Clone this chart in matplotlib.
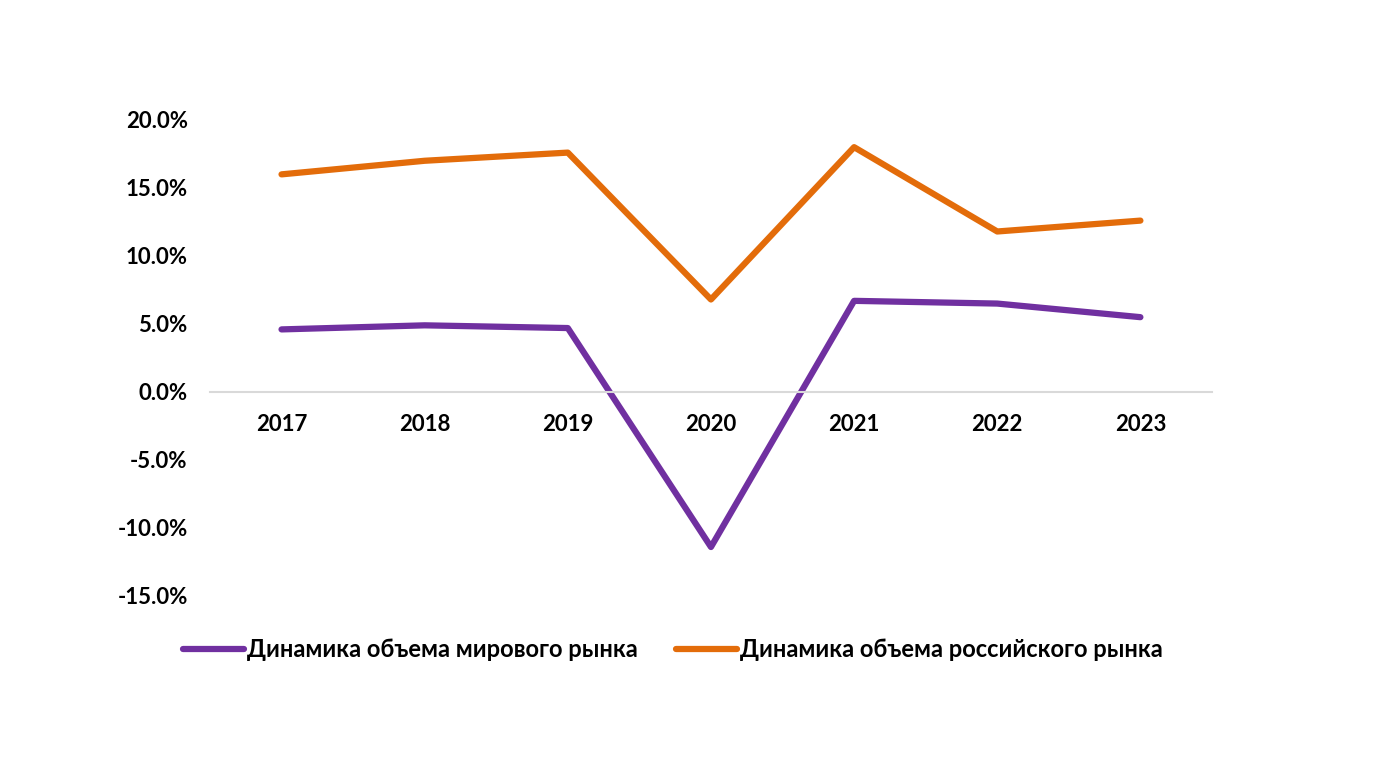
import matplotlib.pyplot as plt
from matplotlib.ticker import FuncFormatter

# Данные
years = ['2017', '2018', '2019', '2020', '2021', '2022', '2023']
world = [4.6, 4.9, 4.7, -11.4, 6.7, 6.5, 5.5]
russia = [16.0, 17.0, 17.6, 6.8, 18.0, 11.8, 12.6]
yticks = [-15, -10, -5, 0, 5, 10, 15, 20]

hex_world = '#7030A0'
hex_russia = '#E36C0A'

plt.rcParams['font.family'] = ['Lato', 'DejaVu Sans']
plt.rcParams['font.weight'] = 'bold'

fig = plt.figure(figsize=(13.84, 7.69), dpi=100)
ax = fig.add_axes([0.1517, 0.225, 0.724, 0.619])

x = list(range(len(years)))
ax.plot(x, world, color=hex_world, linewidth=4.5, solid_capstyle='round',
        label='Динамика объема мирового рынка')
ax.plot(x, russia, color=hex_russia, linewidth=4.5, solid_capstyle='round',
        label='Динамика объема российского рынка')

ax.set_xlim(-0.5, len(years) - 0.5)
ax.set_ylim(-15, 20)
ax.set_yticks(yticks)
ax.yaxis.set_major_formatter(FuncFormatter(lambda v, p: f'{v:.1f}%'))
ax.set_xticks(x)
ax.set_xticklabels(years)

for s in ['top', 'right', 'left']:
    ax.spines[s].set_visible(False)
ax.spines['bottom'].set_position(('data', 0))
ax.spines['bottom'].set_color('#D9D9D9')
ax.spines['bottom'].set_linewidth(1.5)
ax.tick_params(axis='both', length=0, labelsize=16)
ax.tick_params(axis='x', pad=16)
ax.tick_params(axis='y', pad=16)
for lab in ax.get_xticklabels() + ax.get_yticklabels():
    lab.set_fontweight('bold')

leg = fig.legend(loc='center', bbox_to_anchor=(0.486, 0.155), ncol=2, frameon=False,
                 fontsize=17, handlelength=2.6, handletextpad=0.12, columnspacing=1.6)
for t in leg.get_texts():
    t.set_fontweight('bold')

fig.savefig('out.png', dpi=100, facecolor='white')
